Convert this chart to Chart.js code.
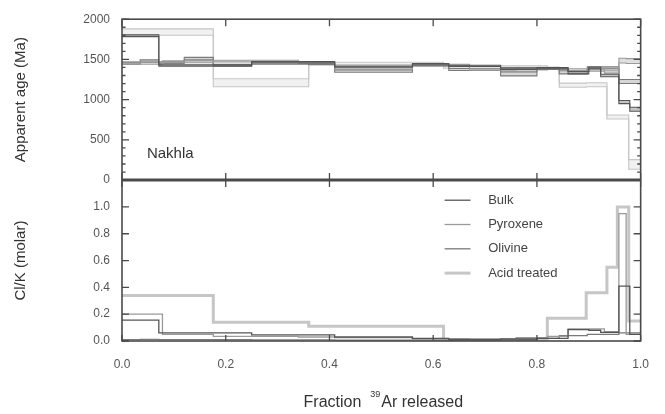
<!DOCTYPE html>
<html>
<head>
<meta charset="utf-8">
<script src="https://cdn.jsdelivr.net/npm/chart.js@4.4.1/dist/chart.umd.min.js"></script>
<style>
  html, body { margin: 0; padding: 0; background: #fff; }
</style>
</head>
<body>
<canvas id="myChart" width="665" height="414"></canvas>
<script>
// step boundaries (fraction of 39Ar released) and values per step
const seriesNames = ['Bulk', 'Pyroxene', 'Olivine', 'Acid treated'];

const bulkFrac = [0, 0.071, 0.25, 0.41, 0.56, 0.63, 0.73, 0.80, 0.86, 0.90, 0.923, 0.958, 0.979, 1.0];
const bulkAge  = [1795, 1425, 1465, 1410, 1440, 1420, 1385, 1390, 1335, 1395, 1300, 970, 880];
const bulkErr  = [12, 8, 10, 8, 10, 8, 10, 8, 15, 10, 15, 20, 25];
const bulkClK  = [0.155, 0.06, 0.045, 0.03, 0.02, 0.012, 0.015, 0.02, 0.085, 0.08, 0.065, 0.41, 0.05];

const pyxFrac = [0, 0.078, 0.176, 0.34, 0.41, 0.56, 0.67, 0.76, 0.82, 0.86, 0.93, 0.958, 0.972, 1.0];
const pyxAge  = [1455, 1470, 1480, 1460, 1395, 1430, 1375, 1380, 1390, 1370, 1345, 1485, 1480];
const pyxErr  = [15, 12, 10, 10, 15, 10, 10, 10, 10, 15, 15, 30, 30];
const pyxClK  = [0.20, 0.05, 0.035, 0.03, 0.025, 0.015, 0.01, 0.025, 0.035, 0.09, 0.07, 0.95, 0.05];

const olvFrac = [0, 0.035, 0.071, 0.12, 0.176, 0.25, 0.36, 0.41, 0.56, 0.63, 0.73, 0.80, 0.843, 0.897, 0.958, 1.0];
const olvAge  = [1450, 1480, 1460, 1510, 1430, 1455, 1450, 1355, 1430, 1375, 1320, 1390, 1340, 1395, 1225];
const olvErr  = [10, 15, 10, 15, 10, 15, 15, 15, 12, 12, 25, 10, 20, 12, 25];
const olvClK  = [0.01, 0.012, 0.01, 0.01, 0.01, 0.008, 0.008, 0.006, 0.006, 0.005, 0.008, 0.02, 0.04, 0.05, 0.06];

const acidFrac = [0, 0.176, 0.36, 0.62, 0.82, 0.843, 0.895, 0.935, 0.955, 0.977, 1.0];
const acidAge  = [1840, 1210, 1450, 1405, 1390, 1180, 1185, 785, 785, 195];
const acidErr  = [40, 50, 15, 15, 15, 25, 25, 25, 25, 60];
const acidClK  = [0.34, 0.14, 0.11, 0.012, 0.17, 0.17, 0.36, 0.55, 1.0, 0.15];

const xTickValues = [0, 0.2, 0.4, 0.6, 0.8, 1.0];
const ageTickValues = [0, 500, 1000, 1500, 2000];
const clkTickValues = [0, 0.2, 0.4, 0.6, 0.8, 1.0];

const lineColors = ['#555555', '#9a9a9a', '#7a7a7a', '#c6c6c6'];
const boxFills = ['rgba(90,90,90,0.35)', 'rgba(150,150,150,0.3)', 'rgba(120,120,120,0.3)', 'rgba(200,200,200,0.25)'];
const clkWidths = [1.3, 1.3, 1.3, 3];

const FONT = '"Liberation Sans", Arial, sans-serif';
Chart.defaults.font.family = FONT;
Chart.defaults.color = '#555';

function steps(frac, vals) {
    const pts = vals.map((v, i) => ({ x: frac[i], y: v }));
    pts.push({ x: frac[frac.length - 1], y: vals[vals.length - 1] });
    return pts;
}

const allSeries = [
    [bulkFrac, bulkAge, bulkErr, bulkClK],
    [pyxFrac, pyxAge, pyxErr, pyxClK],
    [olvFrac, olvAge, olvErr, olvClK],
    [acidFrac, acidAge, acidErr, acidClK],
];

const datasets = [];
allSeries.forEach(([frac, age, err, clk], i) => {
    const base = { borderColor: lineColors[i], pointRadius: 0, stepped: 'before', borderWidth: 1.1 };
    datasets.push({ ...base, label: seriesNames[i] + ' hi', yAxisID: 'yAge', fill: false,
        data: steps(frac, age.map((a, k) => a + err[k])) });
    datasets.push({ ...base, label: seriesNames[i] + ' lo', yAxisID: 'yAge', fill: '-1',
        backgroundColor: boxFills[i], data: steps(frac, age.map((a, k) => a - err[k])) });
    datasets.push({ ...base, label: seriesNames[i], yAxisID: 'yClk', fill: false,
        borderWidth: clkWidths[i], data: steps(frac, clk) });
});

// frames, inward ticks, legend, sample label and x title (with superscript)
const framePlugin = {
    id: 'frames',
    afterDraw(chart) {
        const { ctx, chartArea: a, scales: { x, yAge, yClk } } = chart;
        const sep = yAge.bottom;
        ctx.save();
        ctx.strokeStyle = '#4a4a4a';
        ctx.lineWidth = 1.6;
        ctx.strokeRect(a.left, a.top, a.right - a.left, a.bottom - a.top);
        ctx.lineWidth = 3;
        ctx.beginPath();
        ctx.moveTo(a.left, sep); ctx.lineTo(a.right, sep);
        ctx.stroke();

        ctx.lineWidth = 1.3;
        ctx.beginPath();
        xTickValues.forEach(v => {
            const px = x.getPixelForValue(v);
            ctx.moveTo(px, a.top); ctx.lineTo(px, a.top + 7);
            ctx.moveTo(px, sep - 7); ctx.lineTo(px, sep + 7);
            ctx.moveTo(px, a.bottom); ctx.lineTo(px, a.bottom - 6);
        });
        ageTickValues.forEach(v => {
            const py = yAge.getPixelForValue(v);
            ctx.moveTo(a.left, py); ctx.lineTo(a.left + 7, py);
            ctx.moveTo(a.right, py); ctx.lineTo(a.right - 7, py);
        });
        for (let v = 100; v < 2000; v += 100) {
            const py = yAge.getPixelForValue(v);
            ctx.moveTo(a.left, py); ctx.lineTo(a.left + 3.5, py);
            ctx.moveTo(a.right, py); ctx.lineTo(a.right - 3.5, py);
        }
        clkTickValues.forEach(v => {
            const py = yClk.getPixelForValue(v);
            ctx.moveTo(a.left, py); ctx.lineTo(a.left + 7, py);
            ctx.moveTo(a.right, py); ctx.lineTo(a.right - 7, py);
        });
        ctx.stroke();

        // sample name
        ctx.fillStyle = '#333';
        ctx.font = '15px ' + FONT;
        ctx.textBaseline = 'middle';
        ctx.textAlign = 'left';
        ctx.fillText('Nakhla', x.getPixelForValue(0.048), yAge.getPixelForValue(330));

        // legend inside the lower panel
        ctx.font = '13px ' + FONT;
        ctx.fillStyle = '#444';
        const lx0 = x.getPixelForValue(0.622), lx1 = x.getPixelForValue(0.672), tx = x.getPixelForValue(0.706);
        seriesNames.forEach((name, i) => {
            const py = yClk.getPixelForValue(1.05) + i * 24.3;
            ctx.strokeStyle = lineColors[i];
            ctx.lineWidth = clkWidths[i];
            ctx.beginPath(); ctx.moveTo(lx0, py); ctx.lineTo(lx1, py); ctx.stroke();
            ctx.fillText(name, tx, py);
        });

        // x axis title: Fraction 39Ar released
        ctx.fillStyle = '#333';
        ctx.textBaseline = 'alphabetic';
        const big = '16px ' + FONT, small = '9px ' + FONT;
        ctx.font = big;
        const w1 = ctx.measureText('Fraction  ').width, w3 = ctx.measureText('Ar released').width;
        ctx.font = small;
        const w2 = ctx.measureText('39').width + 1;
        const tx0 = (a.left + a.right) / 2 - (w1 + w2 + w3) / 2 + 2;
        const base = 407;
        ctx.font = big;
        ctx.fillText('Fraction  ', tx0, base);
        ctx.font = small;
        ctx.fillText('39', tx0 + w1, base - 10);
        ctx.font = big;
        ctx.fillText('Ar released', tx0 + w1 + w2, base);
        ctx.restore();
    }
};

const myChart = new Chart(document.getElementById('myChart'), {
    type: 'line',
    data: { datasets: datasets },
    plugins: [framePlugin],
    options: {
        responsive: false,
        devicePixelRatio: 1,
        animation: false,
        layout: { padding: { top: 16, right: 21, left: 0, bottom: 0 } },
        plugins: { legend: { display: false }, tooltip: { enabled: false } },
        scales: {
            x: {
                type: 'linear', min: 0, max: 1,
                grid: { display: false, drawTicks: false },
                border: { display: false },
                afterBuildTicks: s => { s.ticks = xTickValues.map(v => ({ value: v })); },
                ticks: { callback: v => v.toFixed(1), font: { size: 12 }, color: '#555', padding: 16 },
                title: { display: false },
                afterFit: s => { s.height = 73; }
            },
            // stacked: the first one listed goes to the bottom
            yClk: {
                type: 'linear', position: 'left', stack: 'panels', stackWeight: 1,
                min: 0, max: 1.2,
                grid: { display: false, drawTicks: false },
                border: { display: false },
                afterBuildTicks: s => { s.ticks = clkTickValues.map(v => ({ value: v })); },
                ticks: { callback: v => v.toFixed(1), font: { size: 12 }, color: '#555', padding: 12 },
                title: { display: true, text: 'Cl/K (molar)', font: { size: 15 }, color: '#333', padding: { top: 12 } },
                afterFit: s => { s.width = 122; }
            },
            yAge: {
                type: 'linear', position: 'left', stack: 'panels', stackWeight: 1,
                min: 0, max: 2000,
                grid: { display: false, drawTicks: false },
                border: { display: false },
                afterBuildTicks: s => { s.ticks = ageTickValues.map(v => ({ value: v })); },
                ticks: { callback: v => String(v), font: { size: 12 }, color: '#555', padding: 12 },
                title: { display: true, text: 'Apparent age (Ma)', font: { size: 15 }, color: '#333', padding: { top: 12 } },
                afterFit: s => { s.width = 122; }
            }
        }
    }
});
</script>
</body>
</html>
